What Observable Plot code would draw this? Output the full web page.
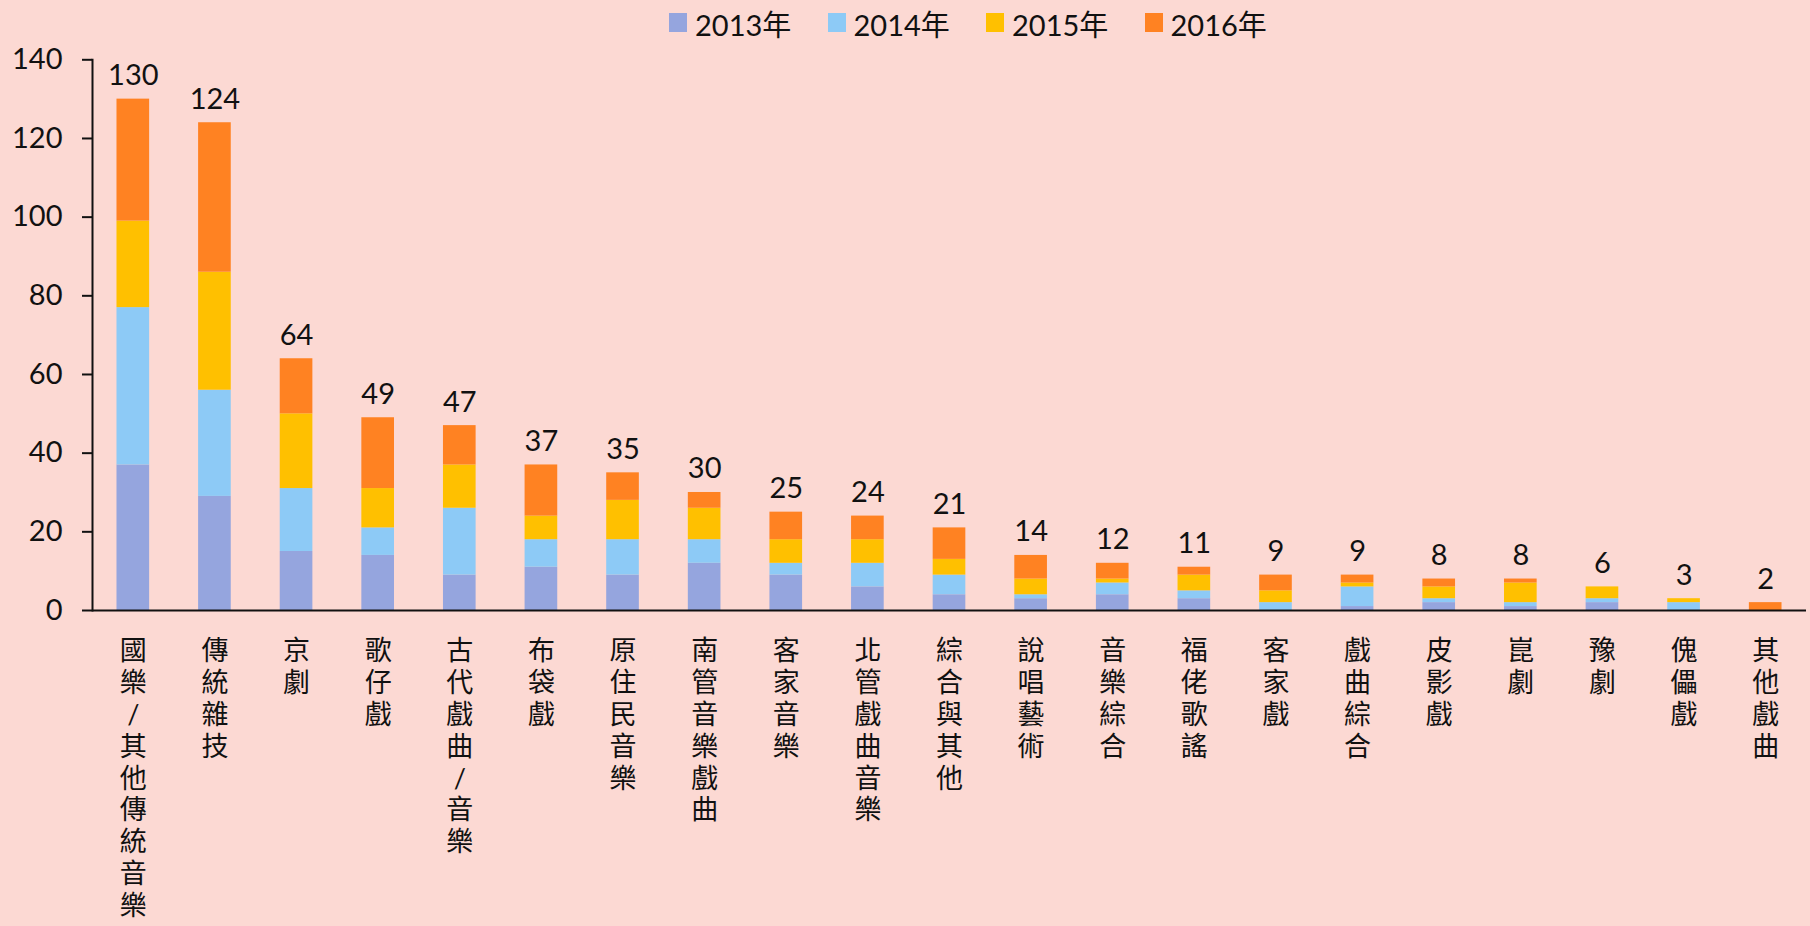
<!DOCTYPE html>
<html>
<head>
<meta charset="utf-8">
<script src="https://cdn.jsdelivr.net/npm/d3@7"></script>
<script src="https://cdn.jsdelivr.net/npm/@observablehq/plot@0.6"></script>
<style>
  html, body { margin: 0; padding: 0; background: #FCD9D3; }
  body { width: 1810px; height: 926px; overflow: hidden; font-family: Lato, "Noto Sans CJK TC", sans-serif; }
  #legend { height: 40px; position: relative; }
  .item { position: absolute; top: 0; height: 40px; display: flex; align-items: flex-start; }
  .sw { width: 18px; height: 19px; margin-top: 13px; margin-right: 8px; }
  .lab { font-size: 29px; line-height: 45px; margin-top: 2px; color: #111; white-space: nowrap; }
  #chart svg { display: block; }
</style>
</head>
<body>
<div id="legend"></div>
<div id="chart"></div>
<script>
const categories = ["國樂/其他傳統音樂","傳統雜技","京劇","歌仔戲","古代戲曲/音樂","布袋戲","原住民音樂","南管音樂戲曲","客家音樂","北管戲曲音樂","綜合與其他","說唱藝術","音樂綜合","福佬歌謠","客家戲","戲曲綜合","皮影戲","崑劇","豫劇","傀儡戲","其他戲曲"];
const series = ["2013年","2014年","2015年","2016年"];
const y2013 = [37,29,15,14,9,11,9,12,9,6,4,3,4,3,0,1,2,1,2,0,0];
const y2014 = [40,27,16,7,17,7,9,6,3,6,5,1,3,2,2,5,1,1,1,2,0];
const y2015 = [22,30,19,10,11,6,10,8,6,6,4,4,1,4,3,1,3,5,3,1,0];
const y2016 = [31,38,14,18,10,13,7,4,7,6,8,6,4,2,4,2,2,1,0,0,2];
const colors = ["#95A5DE","#8DCAF6","#FFC000","#FF8222"];
const yTicks = [0,20,40,60,80,100,120,140];

const values = [y2013, y2014, y2015, y2016];
const data = [];
series.forEach((s, si) => categories.forEach((c, ci) => data.push({cat: c, series: s, value: values[si][ci]})));

// legend
const legend = document.getElementById("legend");
series.forEach((s, i) => {
  const it = document.createElement("div");
  it.className = "item";
  it.style.left = (669 + i * 158.5) + "px";
  it.innerHTML = `<div class="sw" style="background:${colors[i]}"></div><div class="lab">${s}</div>`;
  legend.appendChild(it);
});

const TOP = 40;
const H = 926 - TOP;
const y0 = 610 - TOP, y140 = 59.3 - TOP;
const chart = Plot.plot({
  width: 1810,
  height: H,
  marginLeft: 92,
  marginRight: 4,
  marginTop: y140,
  marginBottom: H - y0,
  style: {background: "#FCD9D3", fontFamily: 'Lato, "Noto Sans CJK TC", sans-serif', color: "#111", overflow: "visible"},
  x: {domain: categories, paddingInner: 0.6, paddingOuter: 0.3, round: false, label: null},
  y: {domain: [0, 140], ticks: yTicks, label: null},
  color: {domain: series, range: colors},
  marks: [
    Plot.barY(data, Plot.stackY({x: "cat", y: "value", fill: "series", order: series})),
    Plot.text(data, Plot.groupX({y: "sum", text: "sum"}, {x: "cat", y: "value", text: "value", lineAnchor: "bottom", dy: -14, fontSize: 29, fill: "#111"})),
    Plot.axisY({ticks: yTicks, tickSize: 10, tickPadding: 20, fontSize: 29, strokeWidth: 2, stroke: "#111", label: null}),
    Plot.axisX({tickSize: 0, tickPadding: 27, fontSize: 27, lineHeight: 1.18, lineAnchor: "top", tickFormat: d => [...d].join("\n"), label: null, fill: "#111"}),
    Plot.frame({anchor: "left", stroke: "#111", strokeWidth: 2}),
    Plot.ruleY([0], {stroke: "#111", strokeWidth: 2})
  ]
});
document.getElementById("chart").appendChild(chart);
</script>
</body>
</html>
